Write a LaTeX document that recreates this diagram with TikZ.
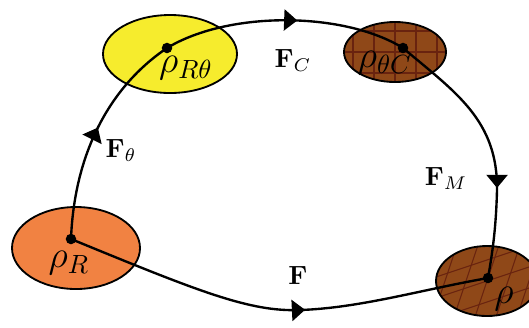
\documentclass[tikz,border=0pt]{standalone}
\usepackage{amsmath}
\usepackage{amssymb}
\usetikzlibrary{arrows.meta,positioning,shapes.geometric,decorations.markings}
\newcommand{\unitpx}{0.38pt}
\definecolor{orangeR}{RGB}{241,130,66}
\definecolor{yellowRt}{RGB}{246,236,45}
\definecolor{brownC}{RGB}{143,72,24}
\definecolor{gridC}{RGB}{105,35,15}

\begin{document}
\begin{tikzpicture}[
  x=\unitpx, y=-\unitpx,
  >={Triangle[length=5pt,width=8pt]},
  region/.style={ellipse,draw,line width=0.7pt,inner sep=0pt},
  dot/.style={circle,fill,inner sep=0pt,minimum size=4pt},
  flowline/.style={line width=0.9pt,postaction={decorate},
    decoration={markings,mark=at position #1 with {\arrow{>}}}},
  hatch/.style={path picture={
    \foreach \k in {-4,...,4}{
      \draw[gridC,line width=0.4pt]
        ([shift={(\k*21-#1,90)}]path picture bounding box.center)
        -- ([shift={(\k*21+#1,-90)}]path picture bounding box.center);
      \draw[gridC,line width=0.4pt]
        ([shift={(-90,\k*21+#1)}]path picture bounding box.center)
        -- ([shift={(90,\k*21-#1)}]path picture bounding box.center);
    }}}
]
\clip (0,0) rectangle (529,327);
\path[use as bounding box] (0,0) rectangle (529,327);

% the four states
\node[region,fill=orangeR,minimum width=128*\unitpx,minimum height=82*\unitpx] (R) at (76,248) {};
\node[region,fill=yellowRt,minimum width=134*\unitpx,minimum height=78*\unitpx] (Rt) at (170,54) {};
\node[region,fill=brownC,hatch=0,minimum width=102*\unitpx,minimum height=60*\unitpx] (tC) at (395,52) {};
\node[region,fill=brownC,hatch=30,minimum width=102*\unitpx,minimum height=70*\unitpx] (M) at (487,281) {};

\node[dot] (pR) at (71,239) {};
\node[dot] (pRt) at (167,48) {};
\node[dot] (ptC) at (403,48) {};
\node[dot] (pM) at (488,278) {};

% the flows
\draw[flowline=0.52] (pR.center) .. controls (74,160) and (105,90) .. (pRt.center);
\draw[flowline=0.55] (pRt.center) .. controls (230,10) and (345,12) .. (ptC.center);
\draw[flowline=0.66] (ptC.center) .. controls (455,92) and (498,120) .. (497,190)
  .. controls (496,230) and (492,255) .. (pM.center);
\draw[flowline=0.57] (pR.center) .. controls (200,292) and (250,312) .. (300,310)
  .. controls (360,308) and (420,290) .. (pM.center);

\node (lR) at (69,263) {\Large$\rho_R$};
\node (lRt) at (186,68) {\Large$\rho_{R\theta}$};
\node (ltC) at (385,63) {\Large$\rho_{\theta C}$};
\node (lM) at (504,299) {\Large$\rho$};
\node (lFt) at (121,150) {$\mathbf{F}_\theta$};
\node (lFC) at (293,60) {$\mathbf{F}_C$};
\node (lFM) at (446,178) {$\mathbf{F}_M$};
\node (lF) at (298,275) {$\mathbf{F}$};
\end{tikzpicture}
\end{document}
